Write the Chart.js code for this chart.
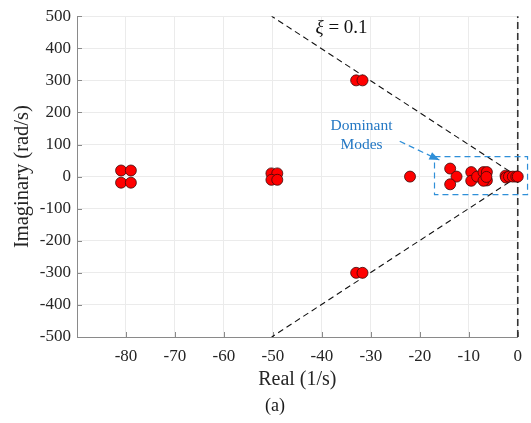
<!DOCTYPE html>
<html>
<head>
<meta charset="utf-8">
<script src="https://cdn.jsdelivr.net/npm/chart.js@4.4.0/dist/chart.umd.min.js"></script>
<style>
html,body{margin:0;padding:0;background:#fff;}
#wrap{width:531px;height:423px;}
</style>
</head>
<body>
<div id="wrap"><canvas id="c" width="531" height="423"></canvas></div>
<script>
// ---- data ----
const poleReal = [-81, -79, -81, -79,
  -50.3, -49.1, -50.3, -49.1,
  -33, -31.7, -33, -31.7,
  -22,
  -13.8, -12.5, -13.8,
  -9.5, -9.5, -8.3, -7.0, -6.3, -6.3, -7.0, -6.4,
  -2.5, -2.4, -1.8, -1.0, -0.3, 0];
const poleImag = [19, 19, -19, -19,
  10, 10, -10, -10,
  300, 300, -300, -300,
  0,
  25, 0, -24,
  14, -13, 0, 14, 14, -12, -13, -1,
  3, -3, 0, 0, 0, 0];
const dampingRatio = 0.1;
const imagLimit = 500;
const xTickValues = [-90, -80, -70, -60, -50, -40, -30, -20, -10, 0];
const yTickValues = [-500, -400, -300, -200, -100, 0, 100, 200, 300, 400, 500];
const boxReal = [-17, 2];
const boxImag = [-56, 62];
const arrowTail = [-24.1, 110];
const arrowTip = [-16, 51.5];
const xiLabelPos = [-41.3, 447];
const dominantLabelPos = [-31.9, 144, 87];

// damping line endpoints from the damping ratio
const dampReal = -imagLimit * dampingRatio / Math.sqrt(1 - dampingRatio * dampingRatio);

const poles = poleReal.map((r, i) => ({x: r, y: poleImag[i]}));
const BLUE = '#2f8fd8';
const SERIF = '"Liberation Serif", "Times New Roman", serif';

const annot = {
  id: 'annot',
  beforeDatasetsDraw(chart) {
    const {ctx, scales: {x, y}, chartArea: a} = chart;
    ctx.save();
    ctx.strokeStyle = '#8a8a8a';
    ctx.lineWidth = 1;
    xTickValues.forEach(v => {
      const px = Math.round(x.getPixelForValue(v)) + 0.5;
      ctx.beginPath(); ctx.moveTo(px, a.bottom); ctx.lineTo(px, a.bottom - 5); ctx.stroke();
    });
    yTickValues.forEach(v => {
      const py = Math.round(y.getPixelForValue(v)) + 0.5;
      ctx.beginPath(); ctx.moveTo(a.left, py); ctx.lineTo(a.left + 5, py); ctx.stroke();
    });
    ctx.restore();
  },
  afterDatasetsDraw(chart) {
    const {ctx, scales: {x, y}} = chart;
    ctx.save();
    // arrow head
    const tx = x.getPixelForValue(arrowTail[0]), ty = y.getPixelForValue(arrowTail[1]);
    const hx = x.getPixelForValue(arrowTip[0]), hy = y.getPixelForValue(arrowTip[1]);
    const ang = Math.atan2(hy - ty, hx - tx);
    const L = 10, W = 4;
    ctx.fillStyle = BLUE;
    ctx.beginPath();
    ctx.moveTo(hx, hy);
    ctx.lineTo(hx - L * Math.cos(ang) + W * Math.sin(ang), hy - L * Math.sin(ang) - W * Math.cos(ang));
    ctx.lineTo(hx - L * Math.cos(ang) - W * Math.sin(ang), hy - L * Math.sin(ang) + W * Math.cos(ang));
    ctx.closePath();
    ctx.fill();
    // xi label
    let px = x.getPixelForValue(xiLabelPos[0]);
    const py = y.getPixelForValue(xiLabelPos[1]);
    ctx.fillStyle = '#111';
    ctx.textBaseline = 'alphabetic';
    ctx.textAlign = 'left';
    ctx.font = 'italic 19px ' + SERIF;
    ctx.fillText('\u03BE', px, py);
    px += ctx.measureText('\u03BE').width;
    ctx.font = '19px ' + SERIF;
    ctx.fillText(' = 0.1', px, py);
    // dominant modes
    ctx.fillStyle = '#2478c4';
    ctx.font = '15.5px ' + SERIF;
    ctx.textAlign = 'center';
    const dx = x.getPixelForValue(dominantLabelPos[0]);
    ctx.fillText('Dominant', dx, y.getPixelForValue(dominantLabelPos[1]));
    ctx.fillText('Modes', dx, y.getPixelForValue(dominantLabelPos[2]));
    // (a)
    ctx.fillStyle = '#1a1a1a';
    ctx.font = '18px ' + SERIF;
    ctx.textBaseline = 'middle';
    ctx.fillText('(a)', 275, 406);
    ctx.restore();
  }
};

new Chart(document.getElementById('c'), {
  type: 'scatter',
  data: {
    datasets: [
      { // poles
        data: poles,
        pointRadius: 5.5,
        pointBackgroundColor: '#ff0000',
        pointBorderColor: '#3a0a0a',
        pointBorderWidth: 0.8,
        showLine: false,
        clip: false,
        order: 0
      },
      { // damping line upper
        data: [{x: 0, y: 0}, {x: dampReal, y: imagLimit}],
        showLine: true, pointRadius: 0, borderColor: '#111', borderWidth: 1.1,
        borderDash: [6, 4], order: 5
      },
      { // damping line lower
        data: [{x: 0, y: 0}, {x: dampReal, y: -imagLimit}],
        showLine: true, pointRadius: 0, borderColor: '#111', borderWidth: 1.1,
        borderDash: [6, 4], order: 5
      },
      { // imaginary axis dashed
        data: [{x: 0, y: -imagLimit}, {x: 0, y: imagLimit}],
        showLine: true, pointRadius: 0, borderColor: '#333', borderWidth: 1.6,
        borderDash: [7, 4], clip: false, order: 5
      },
      { // dominant modes box
        data: [{x: boxReal[0], y: boxImag[1]}, {x: boxReal[1], y: boxImag[1]},
               {x: boxReal[1], y: boxImag[0]}, {x: boxReal[0], y: boxImag[0]},
               {x: boxReal[0], y: boxImag[1]}],
        showLine: true, pointRadius: 0, borderColor: BLUE, borderWidth: 1.2,
        borderDash: [6, 4], clip: false, order: 4
      },
      { // arrow shaft
        data: [{x: arrowTail[0], y: arrowTail[1]}, {x: arrowTip[0], y: arrowTip[1]}],
        showLine: true, pointRadius: 0, borderColor: BLUE, borderWidth: 1.2,
        borderDash: [6, 4], clip: false, order: 4
      }
    ]
  },
  options: {
    responsive: false,
    animation: false,
    layout: {padding: {top: 12, right: 13, left: 0, bottom: 0}},
    plugins: {legend: {display: false}, tooltip: {enabled: false}},
    scales: {
      x: {
        type: 'linear', min: -90, max: 0,
        afterFit: s => { s.height = 86; },
        afterBuildTicks: s => { s.ticks = xTickValues.map(v => ({value: v})); },
        grid: {color: '#ebebeb', drawTicks: false},
        border: {color: '#8a8a8a', width: 1},
        ticks: {
          padding: 9, color: '#262626', font: {family: SERIF, size: 17},
          maxRotation: 0,
          callback: v => (v === -90 ? '' : v)
        },
        title: {display: true, text: 'Real (1/s)', color: '#262626',
          font: {family: SERIF, size: 20}, padding: {top: 0, bottom: 31}}
      },
      y: {
        type: 'linear', min: -500, max: 500,
        afterFit: s => { s.width = 77; },
        afterBuildTicks: s => { s.ticks = yTickValues.map(v => ({value: v})); },
        grid: {color: '#ebebeb', drawTicks: false},
        border: {color: '#8a8a8a', width: 1},
        ticks: {padding: 6, color: '#262626', font: {family: SERIF, size: 17}},
        title: {display: true, text: 'Imaginary (rad/s)', color: '#262626',
          font: {family: SERIF, size: 20.5}, padding: {top: 10, bottom: 0}}
      }
    }
  },
  plugins: [annot]
});
</script>
</body>
</html>
